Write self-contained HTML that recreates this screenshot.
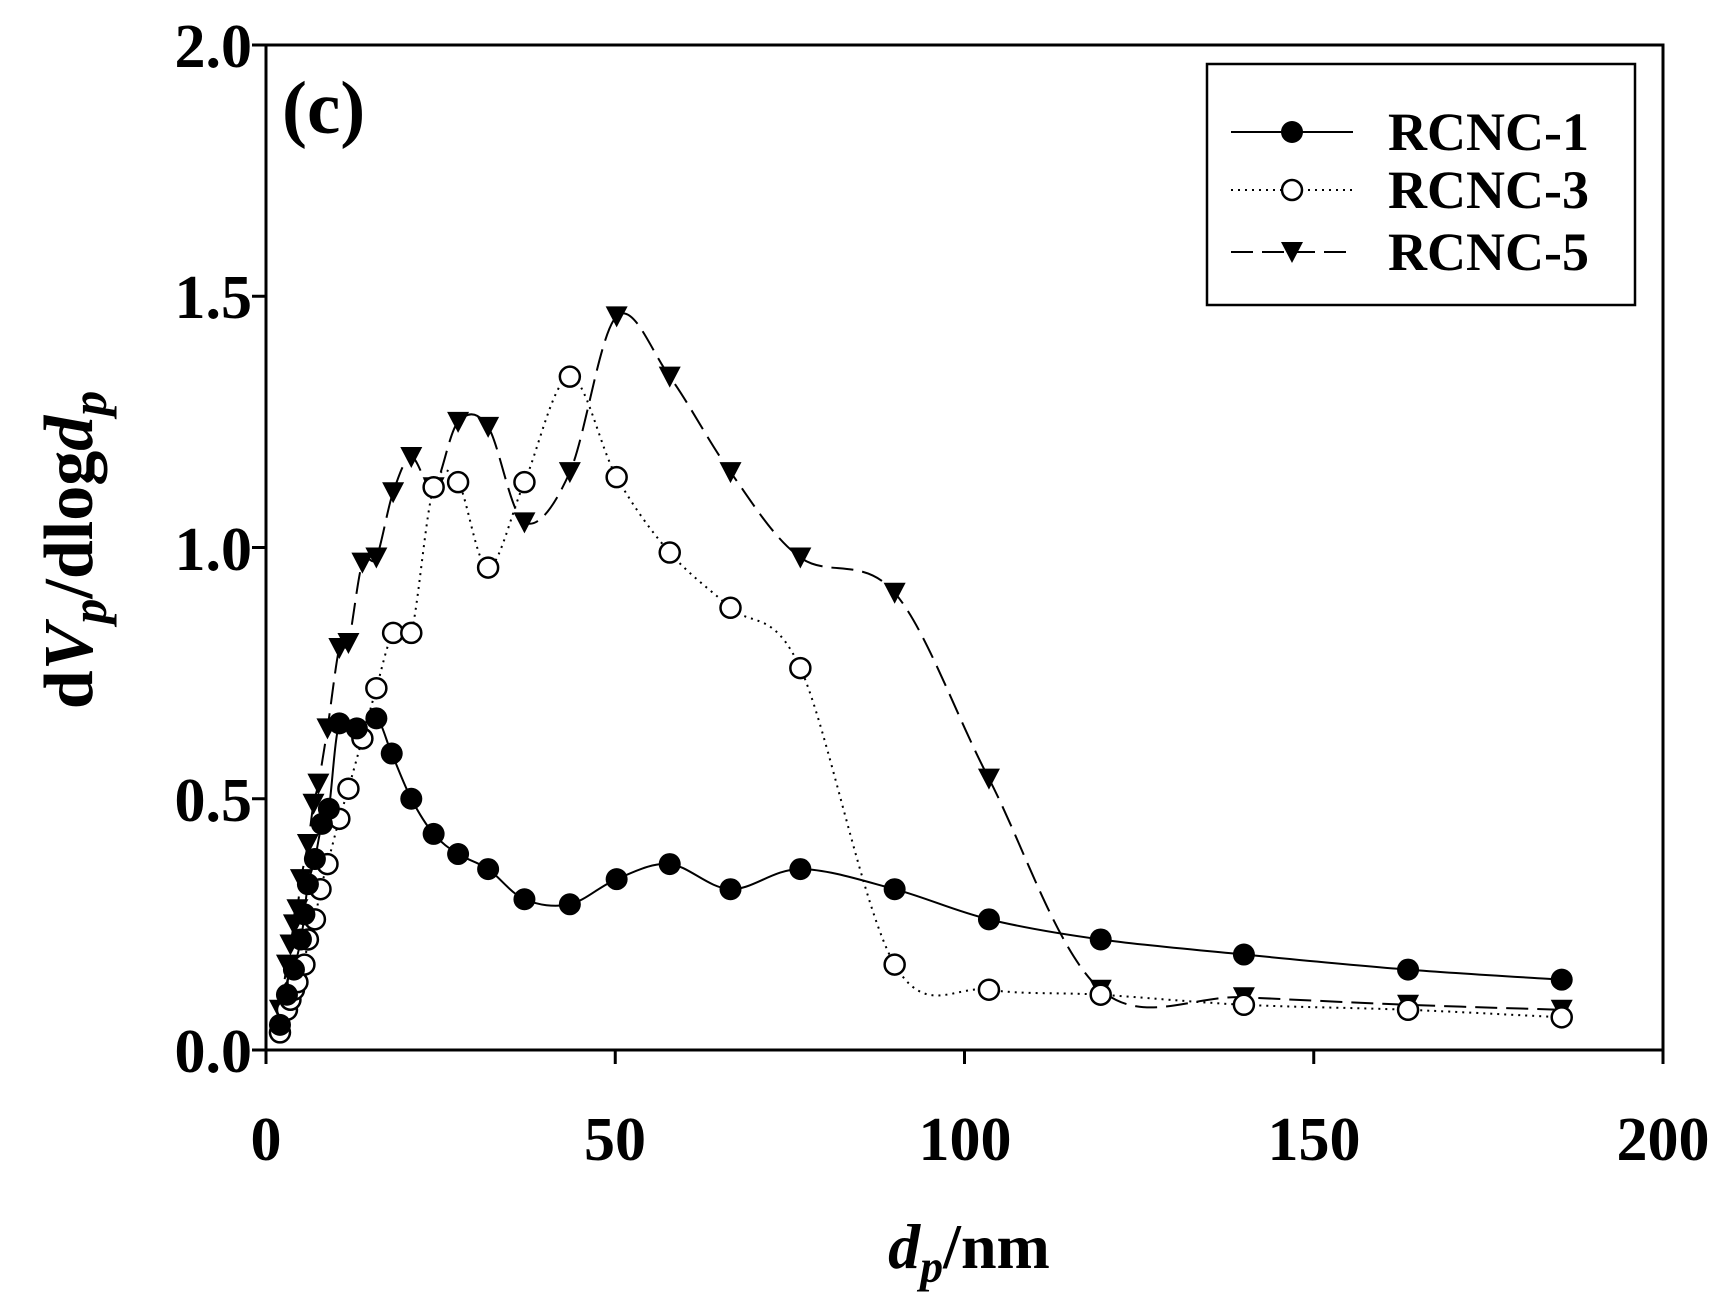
<!DOCTYPE html>
<html><head><meta charset="utf-8"><style>html,body{margin:0;padding:0;background:#fff}svg{display:block}</style></head>
<body>
<svg id="s" width="1732" height="1312" viewBox="0 0 1732 1312" xmlns="http://www.w3.org/2000/svg" font-family="Liberation Serif, serif" font-weight="bold">
<rect x="266" y="45" width="1397" height="1005" fill="none" stroke="#000" stroke-width="3"/>
<g id="ticks" stroke="#000" stroke-width="3"></g>
<g font-size="62" text-anchor="end">
<text x="252" y="1072">0.0</text><text x="252" y="821">0.5</text><text x="252" y="570">1.0</text><text x="252" y="318">1.5</text><text x="252" y="67">2.0</text>
</g>
<g font-size="62" text-anchor="middle">
<text x="266" y="1160">0</text><text x="615" y="1160">50</text><text x="965" y="1160">100</text><text x="1314" y="1160">150</text><text x="1663" y="1160">200</text>
</g>
<text x="969" y="1268" font-size="64" text-anchor="middle"><tspan font-style="italic">d</tspan><tspan font-style="italic" font-size="46" dy="14">p</tspan><tspan dy="-14">/nm</tspan></text>
<text transform="translate(92,550) rotate(-90)" font-size="70" text-anchor="middle">d<tspan font-style="italic">V</tspan><tspan font-style="italic" font-size="50" dy="14">p</tspan><tspan dy="-14">/dlog</tspan><tspan font-style="italic">d</tspan><tspan font-style="italic" font-size="50" dy="14">p</tspan></text>
<text x="282" y="133" font-size="75">(c)</text>
<rect x="1207" y="64" width="428" height="241" fill="none" stroke="#000" stroke-width="2.5"/>
<g id="plot"></g>
<g font-size="54">
<text x="1388" y="150">RCNC-1</text><text x="1388" y="208">RCNC-3</text><text x="1388" y="270">RCNC-5</text>
</g>
</svg>
<script>
const X=v=>266+v*6.985, Y=v=>1050-v*502.5;
const NS="http://www.w3.org/2000/svg";
function el(p,t,a){const e=document.createElementNS(NS,t);for(const k in a)e.setAttribute(k,a[k]);p.appendChild(e);return e;}
const tk=document.getElementById('ticks');
for(let i=0;i<=4;i++){const y=Y(i*0.5);el(tk,'line',{x1:252,x2:266,y1:y,y2:y});const x=X(i*50);el(tk,'line',{x1:x,x2:x,y1:1050,y2:1064});}
const d1=[[2,0.05],[3,0.11],[4,0.16],[5,0.22],[5.5,0.27],[6,0.33],[7,0.38],[8,0.45],[9,0.48],[10.5,0.65],[13,0.64],[15.8,0.66],[18,0.59],[20.8,0.5],[24,0.43],[27.5,0.39],[31.8,0.36],[37,0.30],[43.5,0.29],[50.2,0.34],[57.8,0.37],[66.5,0.32],[76.5,0.36],[90,0.32],[103.5,0.26],[119.5,0.22],[140,0.19],[163.5,0.16],[185.5,0.14]];
const d3=[[2,0.035],[3,0.08],[3.5,0.10],[4,0.12],[4.5,0.135],[5.5,0.17],[6,0.22],[7,0.26],[7.8,0.32],[8.8,0.37],[10.5,0.46],[11.8,0.52],[13.8,0.62],[15.8,0.72],[18.2,0.83],[20.8,0.83],[24,1.12],[27.5,1.13],[31.8,0.96],[37,1.13],[43.5,1.34],[50.2,1.14],[57.8,0.99],[66.5,0.88],[76.5,0.76],[90,0.17],[103.5,0.12],[119.5,0.11],[140,0.09],[163.5,0.08],[185.5,0.065]];
const d5=[[2,0.08],[3,0.17],[3.5,0.21],[4,0.25],[4.5,0.28],[5,0.34],[6,0.41],[6.8,0.49],[7.5,0.53],[8.8,0.64],[10.5,0.8],[11.8,0.81],[13.8,0.97],[15.8,0.98],[18.2,1.11],[20.8,1.18],[24,1.12],[27.5,1.25],[31.8,1.24],[37,1.05],[43.5,1.15],[50.2,1.46],[57.8,1.34],[66.5,1.15],[76.5,0.98],[90,0.91],[103.5,0.54],[119.5,0.12],[140,0.105],[163.5,0.09],[185.5,0.08]];
function path(d){const p=d.map(a=>[X(a[0]),Y(a[1])]);let s=`M${p[0][0]},${p[0][1]}`;
for(let i=0;i<p.length-1;i++){const a=p[i-1]||p[i],b=p[i],c=p[i+1],e=p[i+2]||c;
s+=` C${b[0]+(c[0]-a[0])/6},${b[1]+(c[1]-a[1])/6} ${c[0]-(e[0]-b[0])/6},${c[1]-(e[1]-b[1])/6} ${c[0]},${c[1]}`;}return s;}
const g=document.getElementById('plot');
el(g,'path',{d:path(d1),fill:'none',stroke:'#000','stroke-width':2});
el(g,'path',{d:path(d3),fill:'none',stroke:'#000','stroke-width':2,'stroke-dasharray':'2 5'});
el(g,'path',{d:path(d5),fill:'none',stroke:'#000','stroke-width':2,'stroke-dasharray':'22 9'});
function tri(x,y){return `${x-11},${y-10} ${x+11},${y-10} ${x},${y+11}`;}
d5.forEach(a=>el(g,'polygon',{points:tri(X(a[0]),Y(a[1])),fill:'#000'}));
d3.forEach(a=>el(g,'circle',{cx:X(a[0]),cy:Y(a[1]),r:10,fill:'#fff',stroke:'#000','stroke-width':2.5}));
d1.forEach(a=>el(g,'circle',{cx:X(a[0]),cy:Y(a[1]),r:11,fill:'#000'}));
el(g,'line',{x1:1231,x2:1353,y1:132,y2:132,stroke:'#000','stroke-width':2});
el(g,'circle',{cx:1292,cy:132,r:11,fill:'#000'});
el(g,'line',{x1:1231,x2:1353,y1:190,y2:190,stroke:'#000','stroke-width':2,'stroke-dasharray':'2 5'});
el(g,'circle',{cx:1292,cy:190,r:10,fill:'#fff',stroke:'#000','stroke-width':2.5});
el(g,'line',{x1:1231,x2:1353,y1:252,y2:252,stroke:'#000','stroke-width':2,'stroke-dasharray':'22 9'});
el(g,'polygon',{points:tri(1292,252),fill:'#000'});
</script>
</body></html>
